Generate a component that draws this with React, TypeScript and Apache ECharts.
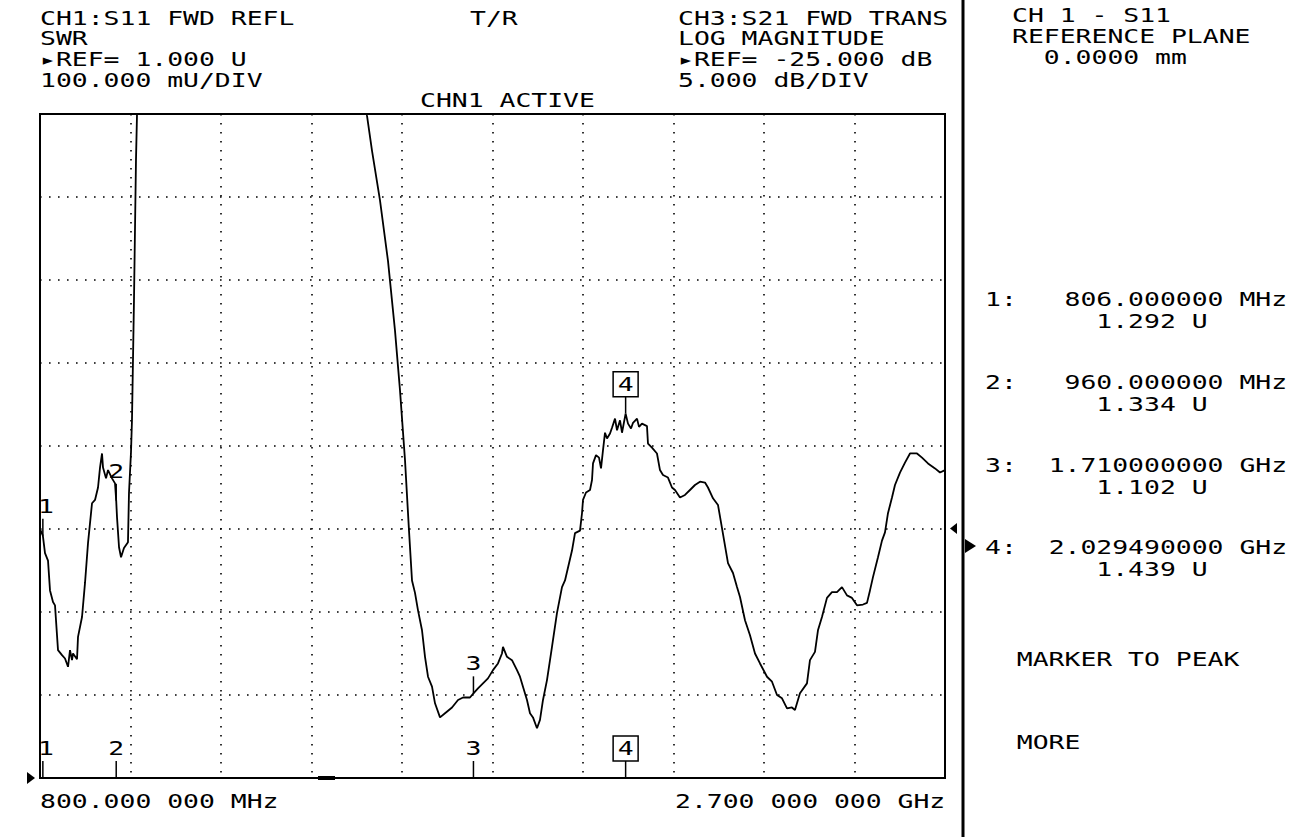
import React, { useEffect, useRef } from "react";
import * as echarts from "echarts";

// Sweep frequency (MHz) and CH1 S11 SWR (U)
const freqMHz = [
  800, 806, 810.5, 816.8, 821, 827.3, 831.5, 837.8, 846.2, 852.5, 858.8, 863, 867.2, 869.3, 877.7, 879.8,
  888.2, 894.5, 900.8, 909.2, 915.5, 921.8, 926, 930.2, 932.3, 938.6, 942.8, 951.2, 957.5, 960, 961.7,
  965.9, 970.1, 976.3, 984.7, 986.8, 991, 993.1, 997.3, 1001.5, 1003.6, 1005.7, 1100, 1400,
  1482.3, 1486.5, 1497, 1513.8, 1530.6, 1545.3, 1555.8, 1566.3, 1574.7, 1581, 1587.3, 1593.6, 1602,
  1608.3, 1614.6, 1623, 1629.3, 1639.8, 1650.3, 1665, 1677.6, 1688.1, 1702.7, 1710, 1719.5, 1730,
  1740.5, 1751, 1761.5, 1769.9, 1772, 1780.4, 1790.9, 1801.4, 1807.7, 1814, 1822.4, 1828.7, 1835,
  1843.4, 1849.7, 1856, 1864.4, 1874.9, 1885.4, 1895.9, 1902.2, 1916.9, 1923.2, 1933.7, 1937.9, 1940,
  1946.3, 1954.7, 1958.9, 1961, 1967.3, 1973.6, 1977.8, 1982, 1986.2, 1990.4, 1996.7, 2000.9, 2007.2,
  2011.4, 2017.7, 2021.9, 2029.49, 2034.5, 2040.8, 2045, 2053.4, 2057.6, 2063.8, 2074.3, 2076.4,
  2084.8, 2095.3, 2101.6, 2107.9, 2118.4, 2126.8, 2133.1, 2143.6, 2154.1, 2164.6, 2175.1, 2185.6,
  2196.1, 2202.4, 2212.9, 2223.4, 2231.8, 2238.1, 2244.4, 2254.9, 2263.3, 2269.6, 2280.1, 2290.6,
  2301.1, 2311.6, 2326.3, 2336.8, 2347.3, 2357.8, 2368.3, 2378.7, 2385, 2395.5, 2410.2, 2416.5, 2427,
  2433.3, 2441.7, 2452.2, 2462.7, 2473.2, 2483.7, 2494.2, 2504.7, 2515.2, 2527.8, 2536.2, 2542.5,
  2548.8, 2559.3, 2567.7, 2574, 2580.3, 2588.7, 2595, 2605.5, 2616, 2626.5, 2641.2, 2651.7, 2664.3,
  2679, 2689.5, 2700,
];
const swrU = [
  1.3, 1.292, 1.271, 1.262, 1.226, 1.212, 1.208, 1.154, 1.148, 1.144, 1.134, 1.154, 1.142, 1.15, 1.143, 1.17,
  1.194, 1.235, 1.283, 1.331, 1.335, 1.35, 1.374, 1.391, 1.374, 1.361, 1.371, 1.361, 1.355, 1.334, 1.314,
  1.278, 1.266, 1.277, 1.284, 1.343, 1.392, 1.431, 1.575, 1.744, 1.798, 1.936, 2.6, 2.6,
  1.822, 1.798, 1.756, 1.696, 1.623, 1.539, 1.467, 1.383, 1.298, 1.238, 1.223, 1.202, 1.178,
  1.146, 1.122, 1.11, 1.09, 1.073, 1.078, 1.085, 1.094, 1.097, 1.097, 1.102, 1.108, 1.114,
  1.12, 1.13, 1.138, 1.15, 1.158, 1.146, 1.142, 1.13, 1.122, 1.11, 1.094, 1.078, 1.073,
  1.06, 1.07, 1.094, 1.118, 1.158, 1.199, 1.23, 1.238, 1.274, 1.295, 1.298, 1.319, 1.335,
  1.344, 1.347, 1.359, 1.379, 1.389, 1.386, 1.373, 1.395, 1.416, 1.409, 1.415, 1.422, 1.433,
  1.419, 1.431, 1.416, 1.439, 1.427, 1.421, 1.428, 1.433, 1.423, 1.427, 1.424, 1.403,
  1.398, 1.391, 1.371, 1.365, 1.362, 1.35, 1.347, 1.338, 1.341, 1.347, 1.353, 1.357,
  1.356, 1.35, 1.337, 1.329, 1.301, 1.28, 1.259, 1.247, 1.23, 1.218, 1.19, 1.172,
  1.15, 1.138, 1.122, 1.116, 1.1, 1.096, 1.084, 1.085, 1.082, 1.102, 1.114, 1.142, 1.152,
  1.178, 1.194, 1.217, 1.224, 1.224, 1.23, 1.22, 1.217, 1.208, 1.209, 1.211, 1.226,
  1.242, 1.266, 1.286, 1.296, 1.319, 1.338, 1.353, 1.368, 1.38, 1.391, 1.391, 1.386, 1.379,
  1.373, 1.368, 1.371,
];

// Markers
const markerFreq = [806, 960, 1710, 2029.49];
const markerSwr = [1.292, 1.334, 1.102, 1.439];
const markerNames = ["1", "2", "3", "4"];
const activeMarker = 3;

// Axis scale (REF = 1.000 U at bottom, 100 mU/DIV, 8 divisions; 800 MHz .. 2.7 GHz, 10 divisions)
const xRange = [800, 2700];
const yRange = [1.0, 1.8];
const xDivs = 10;
const yDivs = 8;

// Annotation texts
const headerLeft = ["CH1:S11 FWD REFL", "SWR", "\u25B8REF= 1.000 U", "100.000 mU/DIV"];
const headerRight = ["CH3:S21 FWD TRANS", "LOG MAGNITUDE", "\u25B8REF= -25.000 dB", "5.000 dB/DIV"];
const topCenter = "T/R";
const activeText = "CHN1 ACTIVE";
const panelHeader = ["CH 1 - S11", "REFERENCE PLANE"];
const panelRefPlane = "0.0000 mm";
const panelMarkerIds = ["1:", "2:", "3:", "4:"];
const panelMarkerFreqs = ["806.000000 MHz", "960.000000 MHz", "1.710000000 GHz", "2.029490000 GHz"];
const panelMarkerVals = ["1.292 U", "1.334 U", "1.102 U", "1.439 U"];
const softKeys = ["MARKER TO PEAK", "MORE"];
const startLabel = "800.000 000 MHz";
const stopLabel = "2.700 000 000 GHz";

const FONT = "DejaVu Sans Mono";
const FS = 19;
const CH = 15.9;
const SX = CH / (0.602 * FS);

function txt(s: string, x: number, y: number, align: string = "left") {
  return {
    type: "text",
    x,
    y,
    scaleX: SX,
    silent: true,
    style: {
      text: s,
      x: 0,
      y: 0,
      fontFamily: FONT,
      fontSize: FS,
      fill: "#000",
      align,
      textAlign: align,
      verticalAlign: "middle",
      textVerticalAlign: "middle",
    },
  };
}

export default function App() {
  const ref = useRef<HTMLDivElement>(null);
  useEffect(() => {
    const chart = echarts.init(ref.current!, null, { renderer: "svg" });

    const GL = 40;
    const GT = 114;
    const GR = 355;
    const GB = 59;

    const graphic: any[] = [];
    headerLeft.forEach((s, i) => graphic.push(txt(s, 40, 18 + 20.8 * i)));
    headerRight.forEach((s, i) => graphic.push(txt(s, 678, 18 + 20.8 * i)));
    graphic.push(txt(topCenter, 470, 18));
    graphic.push(txt(activeText, 420, 100));
    panelHeader.forEach((s, i) => graphic.push(txt(s, 1012, 15 + 21 * i)));
    graphic.push(txt(panelRefPlane, 1012 + 2 * CH, 15 + 21 * 2));
    const rowY = [299, 382, 465, 547];
    panelMarkerIds.forEach((s, i) => {
      graphic.push(txt(s, 985, rowY[i]));
      graphic.push(txt(panelMarkerFreqs[i], 985 + 19 * CH, rowY[i], "right"));
      graphic.push(txt(panelMarkerVals[i], 985 + 7 * CH, rowY[i] + 22));
    });
    graphic.push(txt(softKeys[0], 985 + 2 * CH, 659));
    graphic.push(txt(softKeys[1], 985 + 2 * CH, 742));
    graphic.push(txt(startLabel, 40, 801));
    graphic.push(txt(stopLabel, 675, 801));
    // divider and indicators
    graphic.push({ type: "rect", silent: true, shape: { x: 961.5, y: 0, width: 3, height: 837 }, style: { fill: "#000" } });
    graphic.push({ type: "polygon", silent: true, shape: { points: [[27, 772], [35, 778], [27, 784]] }, style: { fill: "#000" } });
    graphic.push({ type: "polygon", silent: true, shape: { points: [[957, 523], [950, 528.5], [957, 534]] }, style: { fill: "#000" } });
    graphic.push({ type: "polygon", silent: true, shape: { points: [[965, 539], [976, 546], [965, 553]] }, style: { fill: "#000" } });
    graphic.push({ type: "rect", silent: true, shape: { x: 318, y: 776, width: 17, height: 4 }, style: { fill: "#000" } });

    const dotted = { color: "#000", width: 1.6, type: [1.6, 7.4] };

    const option: any = {
      animation: false,
      backgroundColor: "#fff",
      grid: { left: GL, top: GT, right: GR, bottom: GB, show: true, borderColor: "#000", borderWidth: 2, backgroundColor: "transparent" },
      xAxis: [
        { type: "value", min: xRange[0], max: xRange[1], show: false },
        {
          type: "value", min: 0, max: xDivs, interval: 1, show: true,
          axisLine: { show: false }, axisTick: { show: false }, axisLabel: { show: false },
          splitLine: { show: true, lineStyle: dotted },
        },
      ],
      yAxis: [
        { type: "value", min: yRange[0], max: yRange[1], show: false },
        {
          type: "value", min: 0, max: yDivs, interval: 1, show: true,
          axisLine: { show: false }, axisTick: { show: false }, axisLabel: { show: false },
          splitLine: { show: true, lineStyle: dotted },
        },
      ],
      series: [
        {
          type: "line",
          xAxisIndex: 0,
          yAxisIndex: 0,
          data: freqMHz.map((f, i) => [f, swrU[i]]),
          showSymbol: false,
          symbol: "none",
          clip: true,
          lineStyle: { color: "#000", width: 1.8 },
          z: 3,
        },
        {
          type: "custom",
          xAxisIndex: 0,
          yAxisIndex: 0,
          clip: false,
          z: 4,
          data: markerFreq.map((f, i) => [f, markerSwr[i], i]),
          renderItem: (params: any, api: any) => {
            const i = api.value(2);
            const p = api.coord([api.value(0), api.value(1)]);
            const b = api.coord([api.value(0), yRange[0]]);
            const left = params.coordSys.x;
            const children: any[] = [];
            const add = (x: number, y: number) => {
              const lx = Math.max(x, left + 6);
              children.push({ type: "line", shape: { x1: x, y1: y - 17, x2: x, y2: y }, style: { stroke: "#000", lineWidth: 1.5 } });
              if (i === activeMarker) {
                children.push({ type: "rect", shape: { x: lx - 12.5, y: y - 42, width: 25, height: 25 }, style: { fill: "#fff", stroke: "#000", lineWidth: 1.5 } });
              }
              children.push(txt(markerNames[i], lx, y - 29.5, "center"));
            };
            add(p[0], p[1]);
            add(b[0], b[1]);
            return { type: "group", children };
          },
        },
      ],
      graphic,
    };
    chart.setOption(option);
    return () => chart.dispose();
  }, []);
  return <div ref={ref} style={{ position: "absolute", left: 0, top: 0, width: 1300, height: 837, background: "#fff" }} />;
}
